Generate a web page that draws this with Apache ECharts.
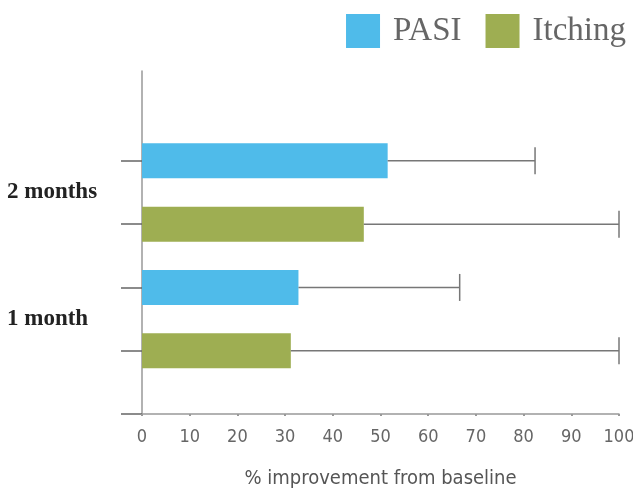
<!DOCTYPE html>
<html>
<head>
<meta charset="utf-8">
<script src="https://cdn.jsdelivr.net/npm/echarts@6/dist/echarts.min.js"></script>
<style>
html,body{margin:0;padding:0;background:#fff;}
#chart{width:633px;height:492px;}
</style>
</head>
<body>
<div id="chart"></div>
<script>
// ---- data ----
const categories = ['1 month', '2 months'];
const seriesNames = ['PASI', 'Itching'];
const pasiValues = [32.8, 51.5];
const pasiErrorHigh = [66.6, 82.4];
const itchingValues = [31.2, 46.5];
const itchingErrorHigh = [100, 100];
const xTicks = [0, 10, 20, 30, 40, 50, 60, 70, 80, 90, 100];

// ---- build ----
const colors = { PASI: '#4FBBEA', Itching: '#9EAE52' };
// rows on the y axis: for each category, Itching row then PASI row (bottom to top)
function rowOf(catIdx, name) { return catIdx * 2 + (name === 'Itching' ? 1 : 2); }

function makeSeries(name, values, highs) {
  return {
    name: name,
    type: 'custom',
    itemStyle: { color: colors[name] },
    data: values.map((v, i) => [v, rowOf(i, name), highs[i]]),
    renderItem: function (params, api) {
      const v = api.value(0), row = api.value(1), hi = api.value(2);
      const p0 = api.coord([0, row]);
      const p1 = api.coord([v, row]);
      const p2 = api.coord([hi, row]);
      const barH = 35, capH = 27;
      return {
        type: 'group',
        children: [
          { type: 'rect', shape: { x: p0[0], y: p0[1] - barH / 2, width: p1[0] - p0[0], height: barH },
            style: { fill: colors[name] } },
          { type: 'line', shape: { x1: p1[0], y1: p1[1], x2: p2[0], y2: p2[1] },
            style: { stroke: '#777', lineWidth: 1.5 } },
          { type: 'line', shape: { x1: p2[0], y1: p2[1] - capH / 2, x2: p2[0], y2: p2[1] + capH / 2 },
            style: { stroke: '#777', lineWidth: 1.5 } }
        ]
      };
    }
  };
}

const chart = echarts.init(document.getElementById('chart'), null, { renderer: 'canvas' });
chart.setOption({
  backgroundColor: '#fff',
  animation: false,
  legend: {
    right: 2, top: 9,
    itemWidth: 34, itemHeight: 34, itemGap: 24,
    icon: 'rect',
    data: seriesNames,
    textStyle: { fontFamily: 'Liberation Serif', fontSize: 33, color: '#666', padding: [0, 0, 0, 8] }
  },
  grid: { left: 142, right: 14, top: 71, bottom: 78, outerBoundsMode: 'none', containLabel: false },
  xAxis: {
    type: 'value', min: xTicks[0], max: xTicks[xTicks.length - 1], interval: 10,
    axisLine: { show: true, lineStyle: { color: '#999', width: 1.5 } },
    axisTick: { show: true, length: 2, lineStyle: { color: '#999', width: 2 } },
    splitLine: { show: false },
    axisLabel: { margin: 14, color: '#666', fontSize: 18, fontFamily: 'Liberation Sans Narrow, DejaVu Sans Condensed, sans-serif',
      formatter: v => String(v) },
    name: '% improvement from baseline',
    nameLocation: 'middle', nameGap: 55,
    nameTextStyle: { color: '#555', fontSize: 20, fontFamily: 'Liberation Sans Narrow, DejaVu Sans Condensed, sans-serif' }
  },
  yAxis: {
    type: 'value', min: 0, max: 5.42,
    axisLine: { show: true, lineStyle: { color: '#999', width: 1.5 } },
    axisTick: { show: true, length: 21, customValues: [0, 1, 2, 3, 4], lineStyle: { color: '#666', width: 1.5 } },
    splitLine: { show: false },
    axisLabel: {
      customValues: [1.5, 3.5],
      formatter: v => categories[Math.round((v - 1.5) / 2)],
      align: 'left', margin: 135,
      color: '#222', fontSize: 23, fontWeight: 'bold', fontFamily: 'Liberation Serif, serif'
    }
  },
  series: [
    makeSeries('PASI', pasiValues, pasiErrorHigh),
    makeSeries('Itching', itchingValues, itchingErrorHigh)
  ]
});
</script>
</body>
</html>
